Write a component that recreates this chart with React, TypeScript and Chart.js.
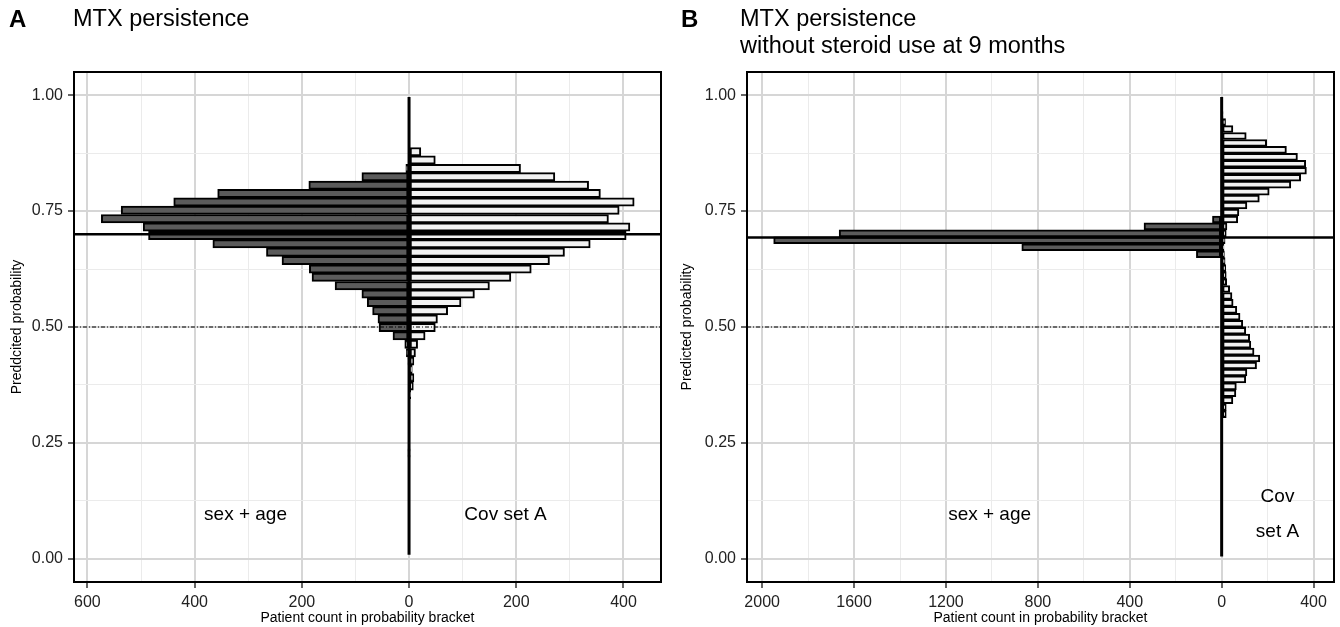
import React, { useEffect, useRef } from 'react';
import { Chart, registerables } from 'chart.js';

Chart.register(...registerables);

const FONT = '"Liberation Sans", Arial, Helvetica, sans-serif';

// ---------- Panel A : MTX persistence ----------
const binsA = [
  0.2280, 0.2461, 0.2641, 0.2822, 0.3003, 0.3183, 0.3364, 0.3544, 0.3725, 0.3906,
  0.4086, 0.4267, 0.4447, 0.4628, 0.4809, 0.4989, 0.5170, 0.5350, 0.5531, 0.5712,
  0.5892, 0.6073, 0.6253, 0.6434, 0.6615, 0.6795, 0.6976, 0.7156, 0.7337, 0.7518,
  0.7698, 0.7879, 0.8059, 0.8240, 0.8421, 0.8601, 0.8782,
];
const sexAgeA = [
  2, 0, 0, 0, 0, 0, 0, 0, 0, 0,
  0, 2, 5, 8, 30, 56, 58, 68, 78, 88,
  138, 181, 186, 237, 266, 366, 486, 496, 574, 537,
  439, 357, 187, 88, 6, 0, 0,
];
const covSetA_A = [
  2, 0, 0, 0, 0, 0, 0, 3, 8, 9,
  6, 9, 12, 16, 30, 49, 53, 72, 97, 122,
  150, 190, 228, 262, 290, 338, 405, 412, 372, 392,
  420, 357, 335, 272, 208, 49, 22,
];
const cutA = 0.70;
const zeroLineA = [0.009, 0.996];
const xRangeA = [-625, 470];
const xTicksA = [-600, -500, -400, -300, -200, -100, 0, 100, 200, 300, 400];
const xMajorA = [-600, -400, -200, 0, 200, 400];

// ---------- Panel B : MTX persistence without steroid use at 9 months ----------
const binsB = [
  0.312, 0.327, 0.342, 0.357, 0.372, 0.387, 0.402, 0.417, 0.432, 0.447,
  0.462, 0.477, 0.492, 0.507, 0.522, 0.537, 0.552, 0.567, 0.582, 0.597,
  0.612, 0.627, 0.642, 0.657, 0.672, 0.687, 0.702, 0.717, 0.732, 0.747,
  0.762, 0.777, 0.792, 0.807, 0.822, 0.837, 0.852, 0.867, 0.882, 0.897,
  0.912, 0.927, 0.942, 0.957, 0.972,
];
const sexAgeB = [
  0, 0, 0, 0, 0, 0, 0, 0, 0, 0,
  0, 0, 0, 0, 0, 0, 0, 0, 0, 0,
  0, 0, 0, 110, 870, 1950, 1665, 338, 40, 0,
  0, 0, 0, 0, 0, 0, 0, 0, 0, 0,
  0, 0, 0, 0, 0,
];
const covSetA_B = [
  20, 20, 49, 62, 64, 105, 110, 152, 166, 141,
  127, 122, 105, 92, 80, 66, 50, 45, 35, 22,
  20, 18, 15, 12, 10, 15, 20, 23, 70, 75,
  110, 164, 207, 301, 344, 369, 366, 330, 282, 196,
  107, 49, 17, 6, 3,
];
const cutB = 0.693;
const zeroLineB = [0.005, 0.996];
const xRangeB = [-2066, 489];
const xTicksB = [-2000, -1800, -1600, -1400, -1200, -1000, -800, -600, -400, -200, 0, 200, 400];
const xMajorB = [-2000, -1600, -1200, -800, -400, 0, 400];

// ---------- shared y axis ----------
const yRange = [-0.05, 1.05];
const yTicks = [0, 0.125, 0.25, 0.375, 0.5, 0.625, 0.75, 0.875, 1];
const yMajor = [0, 0.25, 0.5, 0.75, 1];
const yTickLabels = ['0.00', '0.25', '0.50', '0.75', '1.00'];
const refLine = 0.5;

const labelsA = [
  { text: 'sex + age', x: -305, y: 0.095 },
  { text: 'Cov set A', x: 180, y: 0.095 },
];
const labelsB = [
  { text: 'sex + age', x: -1010, y: 0.095 },
  { text: 'Cov', x: 243, y: 0.134 },
  { text: 'set A', x: 243, y: 0.058 },
];

const framePlugin = {
  id: 'frameAndLabels',
  afterDatasetsDraw(chart: any, _args: any, opts: any) {
    const { ctx, chartArea: a } = chart;
    const xs = chart.scales.x;
    const ys = chart.scales.y;
    ctx.save();
    ctx.fillStyle = '#000';
    ctx.font = `19px ${FONT}`;
    ctx.textAlign = 'center';
    ctx.textBaseline = 'middle';
    for (const l of opts.labels || []) {
      ctx.fillText(l.text, xs.getPixelForValue(l.x), ys.getPixelForValue(l.y));
    }
    ctx.strokeStyle = '#000';
    ctx.lineWidth = 2;
    ctx.strokeRect(a.left, a.top, a.right - a.left, a.bottom - a.top);
    ctx.restore();
  },
};

interface PanelSpec {
  bins: number[];
  left: number[];
  right: number[];
  cut: number;
  zeroLine: number[];
  xRange: number[];
  xTicks: number[];
  xMajor: number[];
  yTitle: string;
  yWidth: number;
  padRight: number;
  labels: { text: string; x: number; y: number }[];
}

function tickVal(c: any): number | null {
  return c && c.tick && typeof c.tick.value === 'number' ? c.tick.value : null;
}
const inList = (list: number[], v: number | null) =>
  v !== null && list.some((m) => Math.abs(m - v) < 1e-9);

function buildConfig(p: PanelSpec): any {
  const [xMin, xMax] = p.xRange;
  const isMajorY = (v: number | null) => inList(yMajor, v);
  const isMajorX = (v: number | null) => inList(p.xMajor, v);
  return {
    type: 'bar',
    data: {
      datasets: [
        {
          type: 'line',
          data: [{ x: xMin, y: p.cut }, { x: xMax, y: p.cut }],
          borderColor: '#000',
          borderWidth: 2.5,
          pointRadius: 0,
          order: 0,
        },
        {
          type: 'line',
          data: [{ x: xMin, y: refLine }, { x: xMax, y: refLine }],
          borderColor: '#000',
          borderWidth: 1,
          borderDash: [4, 2, 1, 2],
          pointRadius: 0,
          order: 0,
        },
        {
          type: 'line',
          data: [{ x: 0, y: p.zeroLine[0] }, { x: 0, y: p.zeroLine[1] }],
          borderColor: '#000',
          borderWidth: 3,
          pointRadius: 0,
          order: 1,
        },
        {
          type: 'bar',
          label: 'sex + age',
          data: p.bins.map((b, i) => ({ x: -p.left[i], y: b })),
          backgroundColor: '#5b5b5b',
          borderColor: '#000',
          borderWidth: 2,
          borderSkipped: false,
          grouped: false,
          barPercentage: 1,
          categoryPercentage: 1,
          order: 5,
        },
        {
          type: 'bar',
          label: 'Cov set A',
          data: p.bins.map((b, i) => ({ x: p.right[i], y: b })),
          backgroundColor: '#f2f2f2',
          borderColor: '#000',
          borderWidth: 2,
          borderSkipped: false,
          grouped: false,
          barPercentage: 1,
          categoryPercentage: 1,
          order: 5,
        },
      ],
    },
    options: {
      indexAxis: 'y',
      animation: false,
      responsive: false,
      maintainAspectRatio: false,
      events: [],
      layout: { padding: { top: 72, right: p.padRight, left: 0, bottom: 0 } },
      plugins: {
        legend: { display: false },
        tooltip: { enabled: false },
        frameAndLabels: { labels: p.labels },
      },
      scales: {
        x: {
          type: 'linear',
          min: xMin,
          max: xMax,
          offset: false,
          border: { display: false },
          afterBuildTicks: (s: any) => {
            s.ticks = p.xTicks.map((v) => ({ value: v }));
          },
          grid: {
            offset: false,
            color: (c: any) => (isMajorX(tickVal(c)) ? '#d6d6d6' : '#ebebeb'),
            lineWidth: (c: any) => (isMajorX(tickVal(c)) ? 2 : 1),
            tickColor: (c: any) => (isMajorX(tickVal(c)) ? '#333' : 'rgba(0,0,0,0)'),
            tickLength: 6,
            tickWidth: 1.5,
          },
          ticks: {
            autoSkip: false,
            maxRotation: 0,
            padding: 5,
            color: '#222',
            font: { family: FONT, size: 16 },
            callback: (v: number) => (isMajorX(v) ? String(Math.abs(v)) : ''),
          },
          title: {
            display: true,
            text: 'Patient count in probability bracket',
            color: '#000',
            font: { family: FONT, size: 14 },
            padding: { top: 0, bottom: 0 },
          },
          afterFit: (s: any) => {
            s.height = 45;
          },
        },
        y: {
          type: 'linear',
          min: yRange[0],
          max: yRange[1],
          offset: false,
          border: { display: false },
          afterBuildTicks: (s: any) => {
            s.ticks = yTicks.map((v) => ({ value: v }));
          },
          grid: {
            offset: false,
            color: (c: any) => (isMajorY(tickVal(c)) ? '#d6d6d6' : '#ebebeb'),
            lineWidth: (c: any) => (isMajorY(tickVal(c)) ? 2 : 1),
            tickColor: (c: any) => (isMajorY(tickVal(c)) ? '#333' : 'rgba(0,0,0,0)'),
            tickLength: 6,
            tickWidth: 1.5,
          },
          ticks: {
            autoSkip: false,
            padding: 5,
            color: '#222',
            font: { family: FONT, size: 16 },
            callback: (v: number) =>
              isMajorY(v) ? yTickLabels[yMajor.findIndex((m) => Math.abs(m - v) < 1e-9)] : '',
          },
          title: {
            display: true,
            text: p.yTitle,
            color: '#000',
            font: { family: FONT, size: 14 },
            padding: { top: 9, bottom: 0 },
          },
          afterFit: (s: any) => {
            s.width = p.yWidth;
          },
        },
      },
    },
    plugins: [framePlugin],
  };
}

function Panel({ spec, left }: { spec: PanelSpec; left: number }) {
  const ref = useRef<HTMLCanvasElement | null>(null);
  useEffect(() => {
    if (!ref.current) return;
    const chart = new Chart(ref.current, buildConfig(spec));
    return () => chart.destroy();
  }, []);
  return (
    <canvas
      ref={ref}
      width={670}
      height={627}
      style={{ position: 'absolute', left, top: 0, width: 670, height: 627 }}
    />
  );
}

const specA: PanelSpec = {
  bins: binsA,
  left: sexAgeA,
  right: covSetA_A,
  cut: cutA,
  zeroLine: zeroLineA,
  xRange: xRangeA,
  xTicks: xTicksA,
  xMajor: xMajorA,
  yTitle: 'Preddcited probability',
  yWidth: 74,
  padRight: 9,
  labels: labelsA,
};

const specB: PanelSpec = {
  bins: binsB,
  left: sexAgeB,
  right: covSetA_B,
  cut: cutB,
  zeroLine: zeroLineB,
  xRange: xRangeB,
  xTicks: xTicksB,
  xMajor: xMajorB,
  yTitle: 'Predicted probability',
  yWidth: 77,
  padRight: 6,
  labels: labelsB,
};

const textBase: React.CSSProperties = {
  position: 'absolute',
  fontFamily: FONT,
  color: '#000',
  whiteSpace: 'nowrap',
  lineHeight: '27px',
};

export default function App() {
  return (
    <div
      style={{
        position: 'absolute',
        left: 0,
        top: 0,
        width: 1340,
        height: 627,
        background: '#fff',
        overflow: 'hidden',
      }}
    >
      <Panel spec={specA} left={0} />
      <Panel spec={specB} left={670} />
      <div style={{ ...textBase, left: 9, top: 5, fontSize: 24, fontWeight: 'bold' }}>A</div>
      <div style={{ ...textBase, left: 73, top: 5, fontSize: 23.5 }}>MTX persistence</div>
      <div style={{ ...textBase, left: 681, top: 5, fontSize: 24, fontWeight: 'bold' }}>B</div>
      <div style={{ ...textBase, left: 740, top: 5, fontSize: 23.5 }}>
        MTX persistence
        <br />
        without steroid use at 9 months
      </div>
    </div>
  );
}
